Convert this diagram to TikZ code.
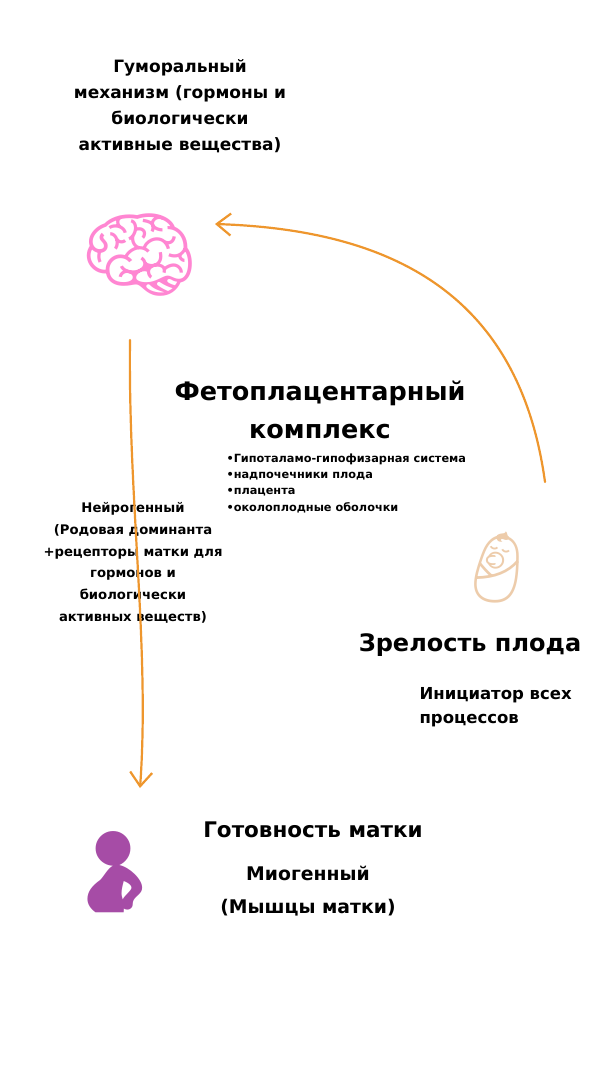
\documentclass[tikz,border=0pt]{standalone}
\usepackage{fontspec}
\setmainfont{DejaVu Sans}
\newfontfamily\emo{Noto Emoji}
\usetikzlibrary{arrows.meta}
\definecolor{arr}{RGB}{238,150,45}
\begin{document}
\begin{tikzpicture}[x=1pt,y=-1pt,
  lbl/.style={font=\bfseries\fontsize{17}{26}\selectfont,align=center},
  bul/.style={font=\bfseries\fontsize{11.3}{16.3}\selectfont,align=left,anchor=north west},
  conn/.style={draw=arr,line width=2.2pt,line cap=round,-{Straight Barb[length=14pt,width=22pt,line width=2.2pt]}}]
\useasboundingbox[fill=white] (0,0) rectangle (600,1065);
\node[lbl] (hum) at (180,106) {Гуморальный\\механизм (гормоны и\\биологически\\активные вещества)};
\node[font=\emo\fontsize{95}{95}\selectfont,text=pink!70!magenta] (brain) at (140,255) {🧠};
\node[font=\bfseries\fontsize{25.5}{38}\selectfont,align=center] (feto) at (320,410) {Фетоплацентарный\\комплекс};
\node[bul] (list) at (223,450) {•Гипоталамо-гипофизарная система\\•надпочечники плода\\•плацента\\•околоплодные оболочки};
\node[font=\bfseries\fontsize{13.2}{21.7}\selectfont,align=center] (neuro) at (133,563) {Нейрогенный\\(Родовая доминанта\\+рецепторы матки для\\гормонов и\\биологически\\активных веществ)};
\node[font=\emo\fontsize{70}{70}\selectfont,text=orange!30!brown!40] (baby) at (497,568) {👶};
\node[font=\bfseries\fontsize{24}{30}\selectfont] (zrel) at (470,645) {Зрелость плода};
\node[font=\bfseries\fontsize{16.5}{24}\selectfont,align=left,anchor=north west] (init) at (416,684) {Инициатор всех\\процессов};
\node[font=\bfseries\fontsize{21.5}{28}\selectfont] (got) at (313,830) {Готовность матки};
\node[font=\bfseries\fontsize{18.8}{33}\selectfont,align=center] (mio) at (308,891) {Миогенный\\(Мышцы матки)};
\node[font=\emo\fontsize{80}{80}\selectfont,text=violet!70] (preg) at (115,872) {🤰};
\coordinate (s1) at (545,482);
\coordinate (e1) at (215,224);
\coordinate (s2) at (130,340);
\coordinate (e2) at (140,788);
\draw[conn] (s1) .. controls (520,300) and (400,230) .. (e1);
\draw[conn] (s2) .. controls (128,500) and (150,650) .. (e2);
\end{tikzpicture}
\end{document}
